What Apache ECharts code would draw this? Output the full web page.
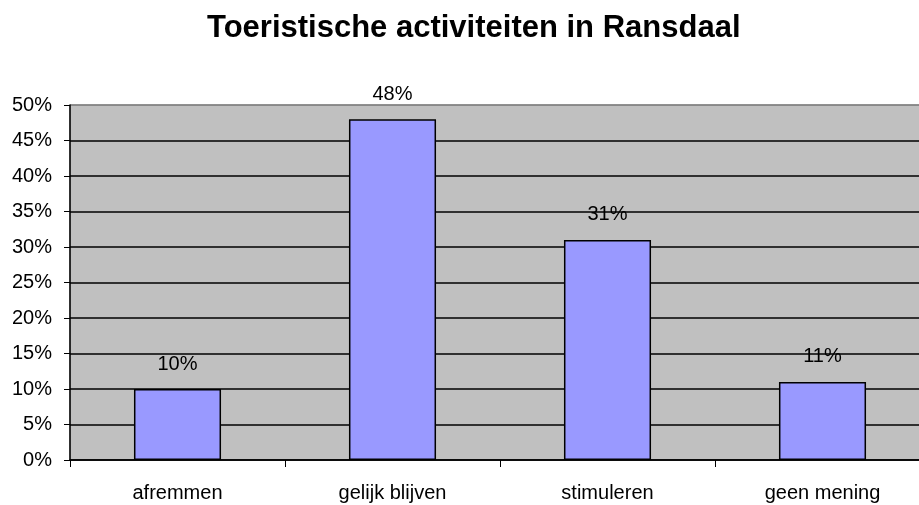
<!DOCTYPE html>
<html>
<head>
<meta charset="utf-8">
<script src="https://cdn.jsdelivr.net/npm/echarts@6/dist/echarts.min.js"></script>
<style>
  html, body { margin: 0; padding: 0; background: #fff; }
  #chart { width: 919px; height: 505px; }
</style>
</head>
<body>
<div id="chart"></div>
<script>
// Survey answers: how should tourist activity in Ransdaal develop?
const categories = ['afremmen', 'gelijk blijven', 'stimuleren', 'geen mening'];
const shares = [10, 48, 31, 11];            // percent of respondents
const yTicks = [0, 5, 10, 15, 20, 25, 30, 35, 40, 45, 50];

const FONT = '"Liberation Sans", Arial, sans-serif';

// split lines are black except the top one, which belongs to the plot border
const splitColors = yTicks.map((t, i) => i === yTicks.length - 1 ? '#808080' : '#000000');

const chart = echarts.init(document.getElementById('chart'));
chart.setOption({
  animation: false,
  backgroundColor: '#ffffff',
  title: {
    text: 'Toeristische activiteiten in Ransdaal',
    left: 202,
    top: 8,
    textStyle: { fontFamily: FONT, fontSize: 31, fontWeight: 'bold', color: '#000' }
  },
  grid: {
    left: 70,
    width: 860,          // plot runs past the right edge of the page
    top: 105,
    height: 355,
    outerBoundsMode: 'none',
    containLabel: false,
    show: true,
    backgroundColor: '#c0c0c0',
    borderColor: '#808080',
    borderWidth: 1
  },
  xAxis: {
    type: 'category',
    data: categories,
    axisLine: { lineStyle: { color: '#000', width: 1.5 } },
    axisTick: { show: true, length: 7, lineStyle: { color: '#000' } },
    axisLabel: { margin: 23, fontFamily: FONT, fontSize: 20, color: '#000' },
    splitLine: { show: false }
  },
  yAxis: {
    type: 'value',
    min: yTicks[0],
    max: yTicks[yTicks.length - 1],
    interval: 5,
    axisLine: { show: true, lineStyle: { color: '#000', width: 1.5 } },
    axisTick: { show: true, length: 6, lineStyle: { color: '#000' } },
    axisLabel: { margin: 18, formatter: '{value}%', fontFamily: FONT, fontSize: 20, color: '#000' },
    splitLine: { show: true, lineStyle: { color: splitColors, width: 1.5 } }
  },
  series: [{
    type: 'bar',
    data: shares,
    barCategoryGap: '59.5%',
    itemStyle: { color: '#9999ff', borderColor: '#000', borderWidth: 1.5 },
    label: {
      show: true,
      position: 'top',
      distance: 15,
      formatter: p => p.value + '%',
      fontFamily: FONT,
      fontSize: 20,
      color: '#000'
    }
  }]
});
</script>
</body>
</html>
